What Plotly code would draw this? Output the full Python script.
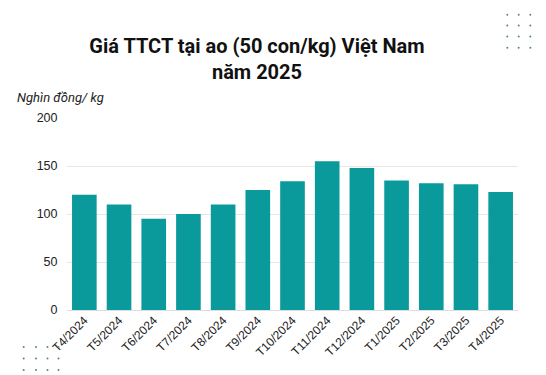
import plotly.graph_objects as go

months = ["T4/2024", "T5/2024", "T6/2024", "T7/2024", "T8/2024", "T9/2024", "T10/2024",
          "T11/2024", "T12/2024", "T1/2025", "T2/2025", "T3/2025", "T4/2025"]
prices = [120, 110, 95, 100, 110, 125, 134, 155, 148, 135, 132, 131, 123]
y_ticks = [0, 50, 100, 150, 200]

BAR = "#0a9a9c"
L, R, T, B = 59, 510, 117, 309
W, H = R - L, B - T

fig = go.Figure()
fig.add_trace(go.Bar(x=months, y=prices, marker=dict(color=BAR, line=dict(width=0)),
                     hoverinfo="x+y"))

shapes = []
for cx in [499.3, 510.7, 522.3, 534]:
    for cy in [2.5, 13.7, 24.5, 35.5, 46.7]:
        shapes.append(dict(type="circle", xref="paper", yref="paper", xsizemode="pixel",
                           ysizemode="pixel", xanchor=(cx - L) / W, yanchor=(B - cy) / H,
                           x0=-1, x1=1, y0=-1, y1=1, fillcolor="#5a8586", line=dict(width=0)))
for cx in [15.7, 28, 39.5, 50.5]:
    for cy in [346, 357.5, 369]:
        shapes.append(dict(type="circle", xref="paper", yref="paper", xsizemode="pixel",
                           ysizemode="pixel", xanchor=(cx - L) / W, yanchor=(B - cy) / H,
                           x0=-1, x1=1, y0=-1, y1=1, fillcolor="#5a8586", line=dict(width=0)))

fig.update_layout(
    width=546, height=375,
    margin=dict(l=L, r=546 - R, t=T - 7, b=375 - B + 7, autoexpand=False),
    paper_bgcolor="white", plot_bgcolor="white",
    bargap=0.29,
    showlegend=False,
    title=dict(text="<b>Giá TTCT tại ao (50 con/kg) Việt Nam<br>năm 2025</b>",
               x=249 / 546, xanchor="center", y=1 - 45 / 375, yanchor="top",
               font=dict(family="Roboto, sans-serif", size=20, color="#111111")),
    xaxis=dict(tickangle=-45, tickfont=dict(family="Liberation Sans, Arial", size=12, color="#222222"),
               showgrid=False, showline=False, ticks="", automargin=False),
    yaxis=dict(range=[0, 200], tickvals=y_ticks, gridcolor="#e6e6e6", gridwidth=1,
               zeroline=True, zerolinecolor="#dddddd", zerolinewidth=1,
               tickfont=dict(family="Liberation Sans, Arial", size=12.5, color="#222222"),
               ticks="outside", ticklen=6, tickcolor="rgba(0,0,0,0)", automargin=False),
    shapes=shapes,
    annotations=[dict(text="<i>Nghìn đồng/ kg</i>", xref="paper", yref="paper",
                      x=(7 - L) / W, xanchor="left", y=(B - 97) / H, yanchor="middle",
                      showarrow=False,
                      font=dict(family="Roboto, sans-serif", size=13, color="#222222"))],
)

fig.write_html("out.html")
